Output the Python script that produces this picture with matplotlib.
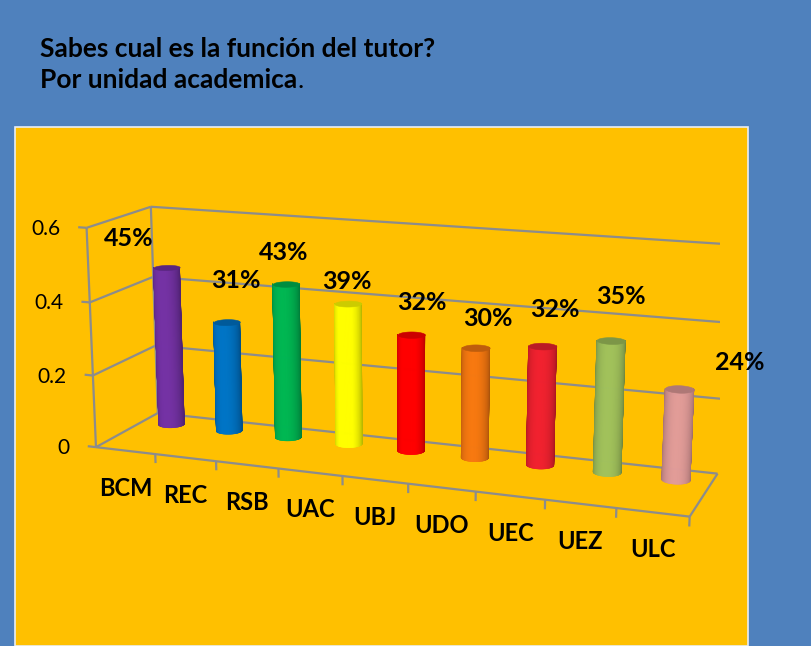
import numpy as np
import matplotlib
matplotlib.use('Agg')
import matplotlib.pyplot as plt
from matplotlib.patches import Rectangle
from matplotlib import colors as mcolors
from matplotlib import transforms as mtransforms
from mpl_toolkits.mplot3d import art3d

# ---------------- data ----------------
categories = ['BCM', 'REC', 'RSB', 'UAC', 'UBJ', 'UDO', 'UEC', 'UEZ', 'ULC']
values = [0.45, 0.31, 0.43, 0.39, 0.32, 0.30, 0.32, 0.35, 0.24]
value_labels = ['45%', '31%', '43%', '39%', '32%', '30%', '32%', '35%', '24%']
zticks = [0, 0.2, 0.4, 0.6]
ztick_labels = ['0', '0.2', '0.4', '0.6']
bar_colors = ['#7030A0', '#0070C0', '#00B050', '#FFFF00', '#FF0000',
              '#EE7410', '#E8202E', '#9BBB59', '#D99694']
title_line1 = 'Sabes cual es la función del tutor?'
title_line2 = 'Por unidad academica'

# ---------------- style / layout ----------------
FONT = 'Lato'
BG_BLUE = '#4F81BD'
GOLD = '#FFC000'
GRID = '#8C8C8C'
# camera (Excel-like 3-D view with perspective)
AZIM, ELEV, FOCAL = -69.59, 14.05, 1 / 1.974
BOX_ASPECT = (1, 0.2196, 0.3714)
AX_POS = [0.0758, -0.0644, 0.8103, 1.0186]
BAR_DEPTH = 0.752
BAR_RADIUS = 0.2
label_offsets_px = [(-38, 21), (9, 34), (-2, 24), (-1, 15), (11, 25),
                    (12, 22), (12, 29), (10, 37), (60, 19)]

W, H = 812, 646
fig = plt.figure(figsize=(W / 100, H / 100), dpi=100)
fig.patch.set_facecolor(BG_BLUE)
fig.add_artist(Rectangle((15 / W, 0), (748 - 15) / W, (646 - 127) / H,
                         transform=fig.transFigure, facecolor=GOLD,
                         edgecolor='#E8EEF6', lw=1.2, zorder=0))

fig.text(40 / W, 1 - 57 / H, title_line1, fontfamily=FONT, fontweight='bold',
         fontsize=19, color='black', va='baseline', ha='left')
t2 = fig.text(40 / W, 1 - 88 / H, title_line2, fontfamily=FONT, fontweight='bold',
              fontsize=19, color='black', va='baseline', ha='left')
fig.canvas.draw()
bb = t2.get_window_extent()
fig.text(bb.x1 / W, 1 - 88 / H, '.', fontfamily=FONT, fontsize=19,
         color='black', va='baseline', ha='left')

n = len(categories)
x0, x1 = -0.5, n - 0.5
zmax = zticks[-1]

ax = fig.add_axes(AX_POS, projection='3d', computed_zorder=False)
ax.set_facecolor('none')
ax.set_xlim(x0, x1)
ax.set_ylim(0, 1)
ax.set_zlim(0, zmax)
ax.set_axis_off()
ax.view_init(elev=ELEV, azim=AZIM)
ax.set_proj_type('persp', focal_length=FOCAL)
ax.set_box_aspect(BOX_ASPECT)


def line3(xs, ys, zs, **kw):
    ax.plot(xs, ys, zs, color=GRID, lw=1.6, solid_capstyle='butt', **kw)


def offset_tr(dx, dy):
    return mtransforms.offset_copy(ax.transData, fig=fig, x=dx, y=dy, units='dots')


# floor
line3([x0, x1], [0, 0], [0, 0], zorder=1)
line3([x0, x1], [1, 1], [0, 0], zorder=1)
line3([x0, x0], [0, 1], [0, 0], zorder=1)
line3([x1, x1], [0, 1], [0, 0], zorder=1)
# left wall verticals
line3([x0, x0], [0, 0], [0, zmax], zorder=1)
line3([x0, x0], [1, 1], [0, zmax], zorder=1)
for z in zticks[1:]:
    line3([x0, x0], [0, 1], [z, z], zorder=1)
    line3([x0, x1], [1, 1], [z, z], zorder=1)
# z ticks and labels
for z, lab in zip(zticks, ztick_labels):
    line3([x0 - 0.14, x0], [0, 0], [z, z], zorder=1)
    ax.text(x0, 0, z, lab, fontfamily=FONT, fontsize=15, ha='right', va='baseline',
            color='black', transform=offset_tr(-26, -7))
# category ticks and labels
for k in range(1, n + 1):
    line3([x0 + k, x0 + k], [0, 0], [0, -0.025], zorder=1)
for i, cat in enumerate(categories):
    ax.text(i, 0, 0, cat, fontfamily=FONT, fontweight='bold', fontsize=17,
            ha='center', va='baseline', color='black', transform=offset_tr(0, -45))

# cylinders: front-facing half of the side as thin strips + top cap
rx = BAR_RADIUS
ry = rx * (1.0 / n) / BOX_ASPECT[1]
az = np.deg2rad(AZIM)
theta = np.linspace(az - np.pi / 2 - 0.1, az + np.pi / 2 + 0.1, 121)
tmid = 0.5 * (theta[:-1] + theta[1:])
light = az - np.deg2rad(12)
shade = 0.72 + 0.32 * np.clip(np.cos(tmid - light), 0, 1)
full = np.linspace(0, 2 * np.pi, 121)
for i, (v, c) in enumerate(zip(values, bar_colors)):
    base = np.array(mcolors.to_rgb(c))
    xs = i + rx * np.cos(theta)
    ys = BAR_DEPTH + ry * np.sin(theta)
    strips = [[(xs[k], ys[k], 0), (xs[k + 1], ys[k + 1], 0),
               (xs[k + 1], ys[k + 1], v), (xs[k], ys[k], v)]
              for k in range(len(theta) - 1)]
    cols = [tuple(np.clip(base * s_, 0, 1)) for s_ in shade]
    side_c = art3d.Poly3DCollection(strips, facecolors=cols, edgecolors=cols,
                                    linewidths=0.3, zorder=3 + i)
    ax.add_collection3d(side_c)
    verts = [list(zip(i + rx * np.cos(full), BAR_DEPTH + ry * np.sin(full),
                      np.full_like(full, v)))]
    topc = tuple(np.clip(base * 0.8, 0, 1))
    top = art3d.Poly3DCollection(verts, facecolor=topc, edgecolor=topc,
                                 linewidths=0.4, zorder=3 + i + 0.5)
    ax.add_collection3d(top)
    dx, dy = label_offsets_px[i]
    ax.text(i, BAR_DEPTH, v, value_labels[i], fontfamily=FONT, fontweight='bold',
            fontsize=18, ha='center', va='baseline', color='black',
            transform=offset_tr(dx, dy), zorder=20)

fig.savefig('out.png', dpi=100, facecolor=fig.get_facecolor())
